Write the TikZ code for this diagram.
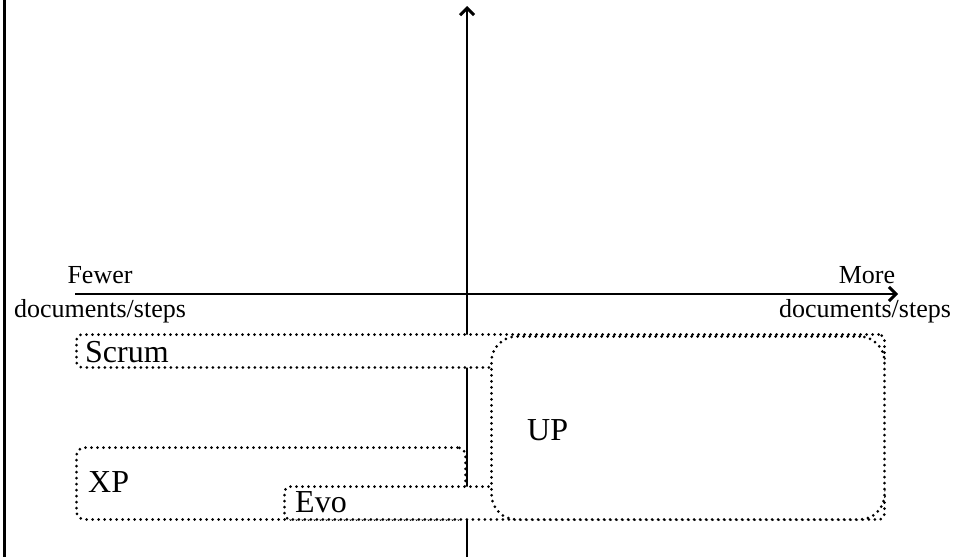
\documentclass[tikz,border=0pt]{standalone}
\usepackage{fontspec}
\setmainfont{Liberation Serif}
\usetikzlibrary{arrows.meta}
\begin{document}
\begin{tikzpicture}[x=1pt,y=-1pt,
  axis/.style={line width=2.6pt,-{Straight Barb[length=7pt,width=14pt,line width=3pt]}},
  dotbox/.style={draw,fill=white,line width=3pt,dash pattern=on 0pt off 6pt,line cap=round,inner sep=0pt},
  axlabel/.style={font=\fontsize{26}{28}\selectfont,inner sep=0pt},
  boxlabel/.style={font=\fontsize{32}{34}\selectfont,inner sep=0pt,anchor=base west}]
\useasboundingbox (0,0) rectangle (958,557);
% frame line on the left
\coordinate (ltop) at (4,0);
\coordinate (lbot) at (4,557);
\draw[line width=3pt] (ltop) -- (lbot);
% axes
\coordinate (xstart) at (75,294);
\coordinate (xend) at (898,294);
\coordinate (ystart) at (467,557);
\coordinate (yend) at (467,6);
\draw[axis] (xstart) -- (xend);
\draw[axis] (ystart) -- (yend);
% axis labels
\node[axlabel,anchor=base] (fewer) at (100,283) {Fewer};
\node[axlabel,anchor=base] (fewerd) at (100,317) {documents/steps};
\node[axlabel,anchor=base] (more) at (867,283) {More};
\node[axlabel,anchor=base] (mored) at (865,317) {documents/steps};
% boxes
\node[dotbox,rounded corners=6pt,minimum width=808pt,minimum height=33pt,anchor=north west] (scrum) at (75,333) {};
\node[dotbox,rounded corners=8pt,minimum width=389pt,minimum height=72pt,anchor=north west] (xp) at (75,446) {};
\node[dotbox,rounded corners=6pt,minimum width=600pt,minimum height=33pt,anchor=north west] (evo) at (283,485) {};
\node[dotbox,rounded corners=25pt,minimum width=393pt,minimum height=183pt,anchor=north west] (up) at (490,335) {};
% box labels
\node[boxlabel] (scrumt) at (85,362) {Scrum};
\node[boxlabel] (upt) at (527,440) {UP};
\node[boxlabel] (xpt) at (88,492) {XP};
\node[boxlabel] (evot) at (295,512) {Evo};
\end{tikzpicture}
\end{document}
